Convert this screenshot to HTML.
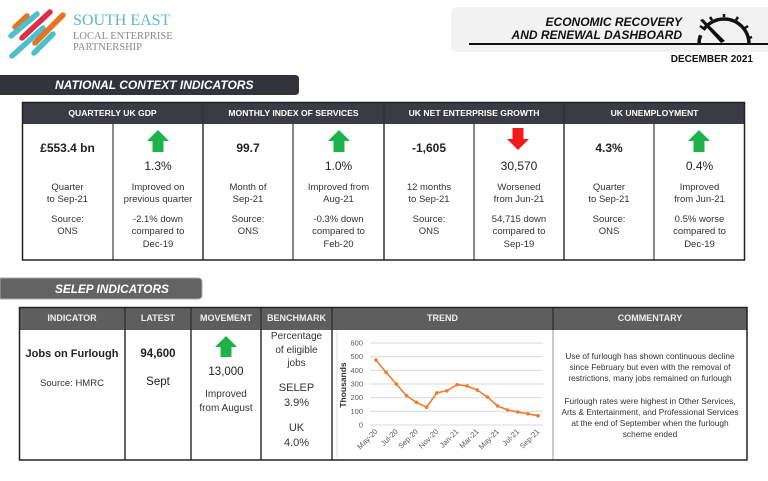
<!DOCTYPE html>
<html><head><meta charset="utf-8"><style>
*{margin:0;padding:0;box-sizing:border-box}
body{width:768px;height:481px;background:#fff;position:relative;overflow:hidden;font-family:"Liberation Sans",Arial,sans-serif;color:#222}
.a{position:absolute;white-space:nowrap;text-align:center}
.b{font-weight:bold}
.s{font-size:9.5px;line-height:12.4px;color:#333}
.th{color:#fff;font-weight:bold;font-size:8.6px;line-height:22px}
.bh{color:#eee;font-weight:bold;font-size:9px;line-height:23px}
</style></head><body>
<svg width="768" height="481" style="position:absolute;left:0;top:0">
<!-- logo -->
<g stroke-linecap="round" stroke-width="5.5" fill="none">
<line x1="15" y1="27" x2="27" y2="16" stroke="#e8731f"/>
<line x1="11" y1="36" x2="37" y2="14" stroke="#4bbfcc"/>
<line x1="22" y1="38" x2="50" y2="12" stroke="#d92e45"/>
<line x1="12" y1="56" x2="43" y2="28" stroke="#4bbfcc"/>
<line x1="35" y1="43" x2="63" y2="15" stroke="#e8731f"/>
<line x1="34" y1="53" x2="53" y2="34" stroke="#4bbfcc"/>
</g>
<!-- header box -->
<rect x="451" y="7" width="330" height="45" rx="6" fill="#f2f2f2"/>
<line x1="469" y1="44" x2="768" y2="44" stroke="#111" stroke-width="2"/>
<path d="M699 44 A25 25 0 0 1 749 44" fill="none" stroke="#111" stroke-width="3.5" stroke-dasharray="9 6 200"/>
<g stroke="#111" stroke-width="2.5">
<line x1="724" y1="17" x2="724" y2="14"/><line x1="736" y1="20" x2="738" y2="17"/><line x1="745" y1="28" x2="748" y2="26"/><line x1="749" y1="38" x2="752" y2="37"/><line x1="712" y1="20" x2="710" y2="17"/><line x1="703" y1="28" x2="700" y2="26"/>
</g>
<polygon points="700,20 703,19 725,41 721,43" fill="#111"/>
<!-- national bar -->
<path d="M0 75 H295 Q299 75 299 79 V91 Q299 95 295 95 H0 Z" fill="#33333d"/>
<!-- top table -->
<rect x="22" y="102" width="723" height="22" fill="#3b3b45"/>
<g stroke="#888" stroke-width="2"><line x1="113" y1="124" x2="113" y2="260"/><line x1="293" y1="124" x2="293" y2="260"/><line x1="474" y1="124" x2="474" y2="260"/><line x1="654" y1="124" x2="654" y2="260"/></g>
<g stroke="#333" stroke-width="1.5"><line x1="203" y1="102" x2="203" y2="260"/><line x1="384" y1="102" x2="384" y2="260"/><line x1="564" y1="102" x2="564" y2="260"/></g>
<rect x="22.5" y="102.5" width="722" height="157.5" fill="none" stroke="#222" stroke-width="1.5"/>
<!-- arrows top -->
<g fill="#1db34a">
<polygon points="158,130 169,141 163.5,141 163.5,152 152.5,152 152.5,141 147,141"/>
<polygon points="339,130 350,141 344.5,141 344.5,152 333.5,152 333.5,141 328,141"/>
<polygon points="699,130 710,141 704.5,141 704.5,152 693.5,152 693.5,141 688,141"/>
<polygon points="226,336 237,347 231.5,347 231.5,357 220.5,357 220.5,347 215,347"/>
</g>
<polygon points="518,150 529,139 523.5,139 523.5,128 512.5,128 512.5,139 507,139" fill="#f01c1c"/>
<!-- selep bar -->
<path d="M0 278 H198 Q202 278 202 282 V295 Q202 299 198 299 H0 Z" fill="#636363" stroke="#aaa" stroke-width="1"/>
<!-- bottom table -->
<rect x="19" y="307" width="728" height="23" fill="#5e5e5e"/>
<g stroke="#333" stroke-width="1.5"><line x1="125" y1="307" x2="125" y2="460"/><line x1="191" y1="307" x2="191" y2="460"/><line x1="261" y1="307" x2="261" y2="460"/><line x1="332" y1="307" x2="332" y2="460"/><line x1="553" y1="307" x2="553" y2="330"/></g>
<line x1="553" y1="330" x2="553" y2="460" stroke="#999" stroke-width="1"/>
<rect x="19.5" y="307.5" width="727.5" height="152.5" fill="none" stroke="#222" stroke-width="1.5"/>
<!-- chart -->
<line x1="337" y1="332" x2="337" y2="457" stroke="#ddd" stroke-width="1"/>
<g stroke="#d9d9d9" stroke-width="1">
<line x1="370" y1="343" x2="543" y2="343"/><line x1="370" y1="356.7" x2="543" y2="356.7"/><line x1="370" y1="370.3" x2="543" y2="370.3"/><line x1="370" y1="384" x2="543" y2="384"/><line x1="370" y1="397.7" x2="543" y2="397.7"/><line x1="370" y1="411.3" x2="543" y2="411.3"/><line x1="370" y1="425" x2="543" y2="425"/>
</g>
<g font-size="7.5" fill="#595959" text-anchor="end" font-family="Liberation Sans, sans-serif">
<text x="363" y="345.5">600</text><text x="363" y="359.2">500</text><text x="363" y="372.8">400</text><text x="363" y="386.5">300</text><text x="363" y="400.2">200</text><text x="363" y="413.8">100</text><text x="363" y="427.5">0</text>
</g>
<text transform="translate(346,385) rotate(-90)" font-size="8.5" font-weight="bold" text-anchor="middle" fill="#333" font-family="Liberation Sans, sans-serif">Thousands</text>
<g font-size="7.5" fill="#595959" text-anchor="end" font-family="Liberation Sans, sans-serif">
<text transform="translate(378,432) rotate(-45)">May-20</text>
<text transform="translate(398.3,432) rotate(-45)">Jul-20</text>
<text transform="translate(418.5,432) rotate(-45)">Sep-20</text>
<text transform="translate(438.8,432) rotate(-45)">Nov-20</text>
<text transform="translate(459,432) rotate(-45)">Jan-21</text>
<text transform="translate(479.3,432) rotate(-45)">Mar-21</text>
<text transform="translate(499.5,432) rotate(-45)">May-21</text>
<text transform="translate(519.8,432) rotate(-45)">Jul-21</text>
<text transform="translate(540,432) rotate(-45)">Sep-21</text>
</g>
<polyline fill="none" stroke="#ed7d31" stroke-width="1.6" points="376,360.1 386.1,372.4 396.3,384 406.4,395.6 416.5,402.4 426.6,407.2 436.8,392.9 446.9,390.8 457,384.7 467.1,386 477.3,390.1 487.4,397 497.5,405.9 507.6,410 517.8,412 527.9,413.8 538,415.7"/>
<g fill="#ed7d31">
<circle cx="376" cy="360.1" r="1.8"/><circle cx="386.1" cy="372.4" r="1.8"/><circle cx="396.3" cy="384" r="1.8"/><circle cx="406.4" cy="395.6" r="1.8"/><circle cx="416.5" cy="402.4" r="1.8"/><circle cx="426.6" cy="407.2" r="1.8"/><circle cx="436.8" cy="392.9" r="1.8"/><circle cx="446.9" cy="390.8" r="1.8"/><circle cx="457" cy="384.7" r="1.8"/><circle cx="467.1" cy="386" r="1.8"/><circle cx="477.3" cy="390.1" r="1.8"/><circle cx="487.4" cy="397" r="1.8"/><circle cx="497.5" cy="405.9" r="1.8"/><circle cx="507.6" cy="410" r="1.8"/><circle cx="517.8" cy="412" r="1.8"/><circle cx="527.9" cy="413.8" r="1.8"/><circle cx="538" cy="415.7" r="1.8"/>
</g>
</svg>

<!-- logo text -->
<div class="a" style="left:73px;top:12px;text-align:left;font-family:'Liberation Serif',serif;font-size:16px;line-height:18px;color:#5bb8c8">SOUTH EAST</div>
<div class="a" style="left:73px;top:31px;text-align:left;font-family:'Liberation Serif',serif;font-size:10.5px;line-height:11px;color:#8a8a8a">LOCAL ENTERPRISE<br>PARTNERSHIP</div>

<!-- header right -->
<div class="a b" style="left:480px;width:202px;top:16px;text-align:right;font-style:italic;font-size:12px;line-height:12.5px;color:#111">ECONOMIC RECOVERY<br>AND RENEWAL DASHBOARD</div>
<div class="a b" style="left:660px;width:93px;top:54px;text-align:right;font-size:10px;line-height:11px;color:#111">DECEMBER 2021</div>

<div class="a b" style="left:55px;top:77px;text-align:left;font-style:italic;font-size:12px;line-height:16px;color:#fff">NATIONAL CONTEXT INDICATORS</div>
<div class="a b" style="left:55px;top:281px;text-align:left;font-style:italic;font-size:11.8px;line-height:16px;color:#fff">SELEP INDICATORS</div>

<!-- top table headers -->
<div class="a th" style="left:22px;width:181px;top:102px">QUARTERLY UK GDP</div>
<div class="a th" style="left:203px;width:181px;top:102px">MONTHLY INDEX OF SERVICES</div>
<div class="a th" style="left:384px;width:180px;top:102px">UK NET ENTERPRISE GROWTH</div>
<div class="a th" style="left:564px;width:181px;top:102px">UK UNEMPLOYMENT</div>

<!-- values -->
<div class="a b" style="left:22px;width:91px;top:141px;font-size:12px;line-height:14px">£553.4 bn</div>
<div class="a b" style="left:203px;width:90px;top:141px;font-size:12px;line-height:14px">99.7</div>
<div class="a b" style="left:384px;width:90px;top:141px;font-size:12px;line-height:14px">-1,605</div>
<div class="a b" style="left:564px;width:90px;top:141px;font-size:12px;line-height:14px">4.3%</div>

<div class="a" style="left:113px;width:90px;top:159px;font-size:12px;line-height:14px">1.3%</div>
<div class="a" style="left:293px;width:91px;top:159px;font-size:12px;line-height:14px">1.0%</div>
<div class="a" style="left:474px;width:90px;top:159px;font-size:12px;line-height:14px">30,570</div>
<div class="a" style="left:654px;width:91px;top:159px;font-size:12px;line-height:14px">0.4%</div>

<div class="a s" style="left:22px;width:91px;top:182px">Quarter<br>to Sep-21</div>
<div class="a s" style="left:22px;width:91px;top:214px">Source:<br>ONS</div>
<div class="a s" style="left:113px;width:90px;top:182px">Improved on<br>previous quarter</div>
<div class="a s" style="left:113px;width:90px;top:214px">-2.1% down<br>compared to<br>Dec-19</div>

<div class="a s" style="left:203px;width:90px;top:182px">Month of<br>Sep-21</div>
<div class="a s" style="left:203px;width:90px;top:214px">Source:<br>ONS</div>
<div class="a s" style="left:293px;width:91px;top:182px">Improved from<br>Aug-21</div>
<div class="a s" style="left:293px;width:91px;top:214px">-0.3% down<br>compared to<br>Feb-20</div>

<div class="a s" style="left:384px;width:90px;top:182px">12 months<br>to Sep-21</div>
<div class="a s" style="left:384px;width:90px;top:214px">Source:<br>ONS</div>
<div class="a s" style="left:474px;width:90px;top:182px">Worsened<br>from Jun-21</div>
<div class="a s" style="left:474px;width:90px;top:214px">54,715 down<br>compared to<br>Sep-19</div>

<div class="a s" style="left:564px;width:90px;top:182px">Quarter<br>to Sep-21</div>
<div class="a s" style="left:564px;width:90px;top:214px">Source:<br>ONS</div>
<div class="a s" style="left:654px;width:91px;top:182px">Improved<br>from Jun-21</div>
<div class="a s" style="left:654px;width:91px;top:214px">0.5% worse<br>compared to<br>Dec-19</div>

<!-- bottom table header -->
<div class="a bh" style="left:19px;width:106px;top:307px">INDICATOR</div>
<div class="a bh" style="left:125px;width:66px;top:307px">LATEST</div>
<div class="a bh" style="left:191px;width:70px;top:307px">MOVEMENT</div>
<div class="a bh" style="left:261px;width:71px;top:307px">BENCHMARK</div>
<div class="a bh" style="left:332px;width:221px;top:307px">TREND</div>
<div class="a bh" style="left:553px;width:194px;top:307px">COMMENTARY</div>

<div class="a b" style="left:19px;width:106px;top:347px;font-size:11px;line-height:14px">Jobs on Furlough</div>
<div class="a" style="left:19px;width:106px;top:378px;font-size:9.5px;line-height:12px;color:#333">Source: HMRC</div>
<div class="a b" style="left:125px;width:66px;top:347px;font-size:11.5px;line-height:14px">94,600</div>
<div class="a" style="left:125px;width:66px;top:375px;font-size:11.5px;line-height:14px">Sept</div>
<div class="a" style="left:191px;width:70px;top:365px;font-size:11.5px;line-height:14px">13,000</div>
<div class="a" style="left:191px;width:70px;top:388px;font-size:10px;line-height:14px;color:#333">Improved<br>from August</div>
<div class="a" style="left:261px;width:71px;top:330px;font-size:10px;line-height:13.5px;color:#333">Percentage<br>of eligible<br>jobs</div>
<div class="a" style="left:261px;width:71px;top:381px;font-size:11px;line-height:15px;color:#333">SELEP<br>3.9%</div>
<div class="a" style="left:261px;width:71px;top:421px;font-size:11px;line-height:15px;color:#333">UK<br>4.0%</div>

<div class="a" style="left:553px;width:194px;top:350.5px;font-size:8.3px;line-height:11.2px;color:#333">Use of furlough has shown continuous decline<br>since February but even with the removal of<br>restrictions, many jobs remained on furlough</div>
<div class="a" style="left:553px;width:194px;top:395.5px;font-size:8.3px;line-height:11.3px;color:#333">Furlough rates were highest in Other Services,<br>Arts &amp; Entertainment, and Professional Services<br>at the end of September when the furlough<br>scheme ended</div>
</body></html>
